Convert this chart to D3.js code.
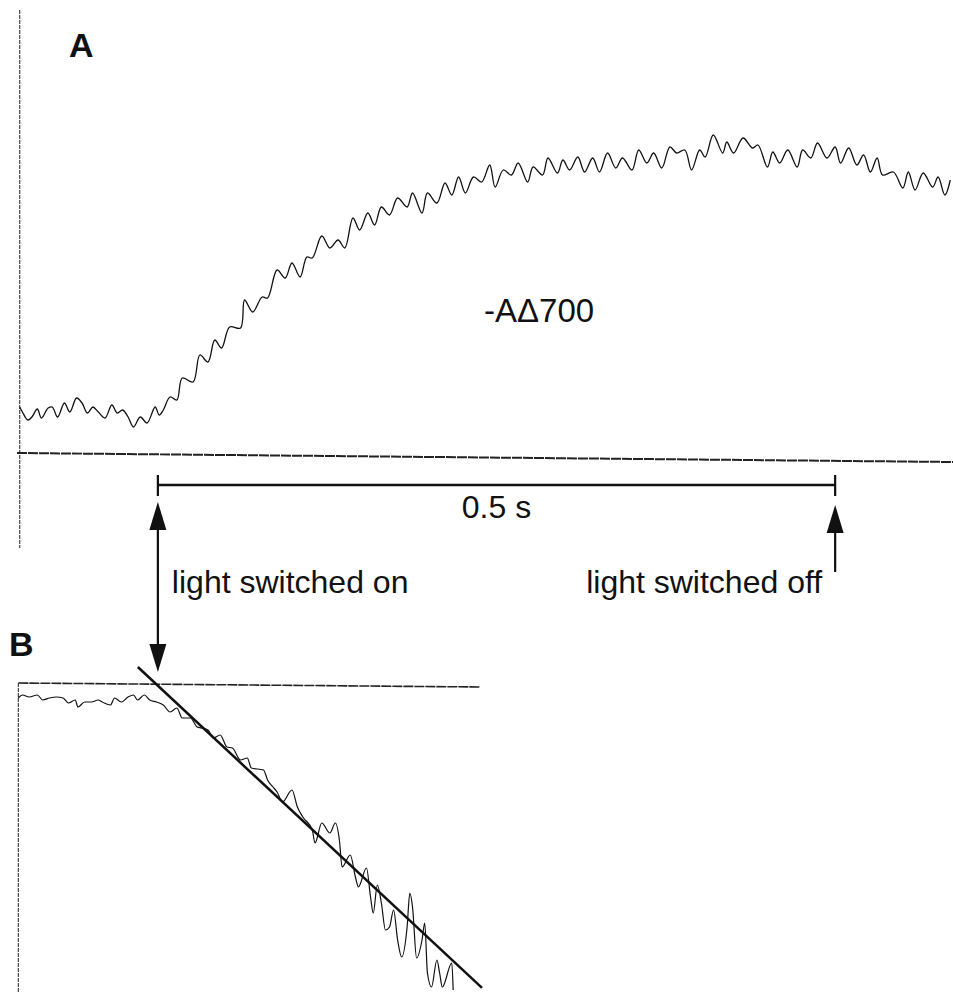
<!DOCTYPE html>
<html>
<head>
<meta charset="utf-8">
<script src="https://cdn.jsdelivr.net/npm/d3@7"></script>
<style>
  html, body { margin: 0; padding: 0; background: #fff; }
  svg { display: block; }
  text { font-family: "Liberation Sans", Arial, sans-serif; fill: #111; }
</style>
</head>
<body>
<svg id="chart" width="953" height="992"></svg>
<script>
// Panel A: P700 absorbance change (-ΔA700) during illumination; time in ms from light-on
const timeA = [
  -102, -100, -96, -93, -89, -86, -81, -78, -74, -69,
  -65, -60, -56, -52, -48, -44, -39, -34, -30, -26,
  -22, -18, -13, -8, -2, 1, 4, 9, 14, 18,
  26, 31, 37, 42, 47, 53, 61, 64, 70, 77,
  81, 88, 94, 99, 105, 110, 114, 121, 127, 133,
  138, 144, 149, 155, 160, 165, 171, 177, 184, 188,
  195, 199, 206, 212, 217, 222, 227, 233, 239, 245,
  249, 255, 261, 266, 273, 277, 284, 288, 295, 299,
  304, 310, 315, 321, 326, 332, 338, 343, 350, 355,
  361, 366, 372, 378, 383, 389, 394, 400, 404, 410,
  417, 420, 425, 432, 439, 443, 450, 454, 459, 465,
  472, 476, 482, 487, 494, 500, 504, 510, 516, 521,
  526, 531, 535, 543, 550, 554, 559, 565, 572, 576,
  581, 585
];
const signalA = [
  46, 41, 33, 36, 44, 35, 45, 46, 36, 50,
  41, 55, 50, 40, 46, 41, 35, 48, 40, 43,
  36, 26, 36, 30, 46, 38, 43, 56, 53, 75,
  71, 98, 91, 113, 105, 126, 125, 153, 141, 156,
  155, 183, 175, 190, 176, 196, 195, 217, 205, 213,
  205, 235, 223, 240, 228, 246, 238, 255, 246, 260,
  240, 260, 250, 270, 258, 276, 260, 276, 271, 288,
  266, 283, 278, 290, 271, 286, 278, 295, 280, 293,
  283, 296, 281, 295, 281, 300, 285, 295, 283, 303,
  290, 300, 285, 306, 300, 303, 283, 303, 296, 318,
  300, 311, 300, 315, 305, 308, 286, 301, 290, 303,
  286, 303, 295, 310, 295, 306, 290, 305, 288, 298,
  281, 295, 278, 281, 265, 281, 263, 280, 266, 276,
  258, 273
];
// zero-signal reference trace of panel A (slight drift)
const baselineTimeA = [-104, 587];
const baselineSignalA = [0, -9];

// Panel B: logarithmic plot of the same transient, with a linear fit
const timeB = [
  -103, -100, -95, -89, -85, -80, -75, -70, -66, -61,
  -59, -54, -49, -44, -41, -35, -32, -27, -22, -18,
  -15, -10, -6, -1, 4, 9, 14, 18, 24, 29,
  32, 37, 41, 46, 51, 55, 61, 66, 69, 78,
  81, 85, 88, 92, 99, 103, 107, 114, 116, 121,
  127, 131, 134, 136, 142, 146, 148, 154, 157, 159,
  162, 165, 168, 171, 174, 177, 180, 184, 186, 188,
  191, 195, 197, 199, 202, 206, 208, 210, 217, 218
];
const signalB = [
  -15, -12, -14, -12, -17, -15, -14, -15, -20, -17,
  -24, -19, -19, -17, -19, -22, -15, -19, -14, -12,
  -17, -12, -17, -19, -22, -29, -25, -35, -35, -44,
  -45, -47, -55, -52, -64, -65, -77, -75, -85, -87,
  -97, -104, -109, -119, -107, -124, -134, -147, -160, -140,
  -150, -140, -157, -184, -172, -195, -204, -185, -214, -230,
  -202, -220, -247, -244, -227, -257, -274, -244, -210, -224,
  -275, -257, -240, -290, -304, -277, -290, -304, -280, -307
];
const referenceTimeB = [-103, 238];
const referenceSignalB = [0, -4];
const fitSlopeB = -1.263;      // signal units per ms
const fitInterceptB = -2.7;
const fitRangeB = [-14.8, 239.3];

// Illumination events (ms) and scale bar
const lightOnTime = 0;
const lightOffTime = 500;
const scaleBarMs = 500;
const scaleBarLabel = "0.5 s";
const signalLabel = "-AΔ700";
const onLabel = "light switched on";
const offLabel = "light switched off";
const panelLabels = ["A", "B"];

const svg = d3.select("#chart");

// shared time axis
const x = d3.scaleLinear().domain([-104, 587]).range([17, 953]);
// panel A signal scale
const yA = d3.scaleLinear().domain([0, 450]).range([453, 3]);
// panel B signal scale
const yB = d3.scaleLinear().domain([0, -310]).range([683, 993]);

const ink = "#111";

// ---------- Panel A ----------
const gA = svg.append("g");

// vertical axis of the recorder trace
gA.append("line")
  .attr("x1", x(-102)).attr("x2", x(-102))
  .attr("y1", yA(443)).attr("y2", yA(-95))
  .attr("stroke", "#444").attr("stroke-width", 1.2)
  .attr("stroke-dasharray", "4,1");

// zero line
gA.append("path")
  .datum(d3.zip(baselineTimeA, baselineSignalA))
  .attr("d", d3.line().x(d => x(d[0])).y(d => yA(d[1])))
  .attr("fill", "none").attr("stroke", "#222").attr("stroke-width", 2)
  .attr("stroke-dasharray", "10,1");

// absorbance trace
gA.append("path")
  .datum(d3.zip(timeA, signalA))
  .attr("d", d3.line().curve(d3.curveCatmullRom.alpha(0.5)).x(d => x(d[0])).y(d => yA(d[1])))
  .attr("fill", "none").attr("stroke", ink).attr("stroke-width", 1.3);

gA.append("text").attr("x", 69).attr("y", 57)
  .attr("font-size", 34).attr("font-weight", "bold").text(panelLabels[0]);

gA.append("text").attr("x", 484).attr("y", 322)
  .attr("font-size", 33).text(signalLabel);

// ---------- scale bar ----------
const barY = 485;
svg.append("line")
  .attr("x1", x(lightOnTime)).attr("x2", x(lightOnTime + scaleBarMs))
  .attr("y1", barY).attr("y2", barY)
  .attr("stroke", ink).attr("stroke-width", 2.5);
[lightOnTime, lightOnTime + scaleBarMs].forEach(t => {
  svg.append("line")
    .attr("x1", x(t)).attr("x2", x(t))
    .attr("y1", barY - 10).attr("y2", barY + 11)
    .attr("stroke", ink).attr("stroke-width", 2.2);
});
svg.append("text")
  .attr("x", (x(lightOnTime) + x(lightOnTime + scaleBarMs)) / 2)
  .attr("y", 518).attr("text-anchor", "middle")
  .attr("font-size", 32).text(scaleBarLabel);

// ---------- event arrows ----------
function arrowHead(cx, tipY, dir) {
  // dir = -1 points up, +1 points down
  const len = 28, half = 8.5;
  const baseY = tipY - dir * len;
  return `M${cx},${tipY} L${cx - half},${baseY} L${cx + half},${baseY} Z`;
}
const onX = x(lightOnTime), offX = x(lightOffTime);

// double-headed arrow linking light-on in A and B
svg.append("line").attr("x1", onX).attr("x2", onX)
  .attr("y1", 520).attr("y2", 650)
  .attr("stroke", ink).attr("stroke-width", 2.2);
svg.append("path").attr("d", arrowHead(onX, 502, -1)).attr("fill", ink);
svg.append("path").attr("d", arrowHead(onX, 672, 1)).attr("fill", ink);

// light-off arrow
svg.append("line").attr("x1", offX).attr("x2", offX)
  .attr("y1", 522).attr("y2", 572)
  .attr("stroke", ink).attr("stroke-width", 2.2);
svg.append("path").attr("d", arrowHead(offX, 505, -1)).attr("fill", ink);

svg.append("text").attr("x", onX + 14).attr("y", 593)
  .attr("font-size", 32).text(onLabel);
svg.append("text").attr("x", offX - 13).attr("y", 593)
  .attr("text-anchor", "end").attr("font-size", 32).text(offLabel);

// ---------- Panel B ----------
const gB = svg.append("g");

gB.append("text").attr("x", 9).attr("y", 656)
  .attr("font-size", 34).attr("font-weight", "bold").text(panelLabels[1]);

gB.append("line")
  .attr("x1", x(-103)).attr("x2", x(-103))
  .attr("y1", yB(0)).attr("y2", yB(-310))
  .attr("stroke", "#444").attr("stroke-width", 1.2)
  .attr("stroke-dasharray", "4,1");

gB.append("path")
  .datum(d3.zip(referenceTimeB, referenceSignalB))
  .attr("d", d3.line().x(d => x(d[0])).y(d => yB(d[1])))
  .attr("fill", "none").attr("stroke", "#222").attr("stroke-width", 1.6)
  .attr("stroke-dasharray", "10,1");

gB.append("path")
  .datum(d3.zip(timeB, signalB))
  .attr("d", d3.line().curve(d3.curveMonotoneX).x(d => x(d[0])).y(d => yB(d[1])))
  .attr("fill", "none").attr("stroke", ink).attr("stroke-width", 1.2);

gB.append("path")
  .datum(fitRangeB.map(t => [t, fitInterceptB + fitSlopeB * t]))
  .attr("d", d3.line().x(d => x(d[0])).y(d => yB(d[1])))
  .attr("fill", "none").attr("stroke", ink).attr("stroke-width", 2.5);
</script>
</body>
</html>
